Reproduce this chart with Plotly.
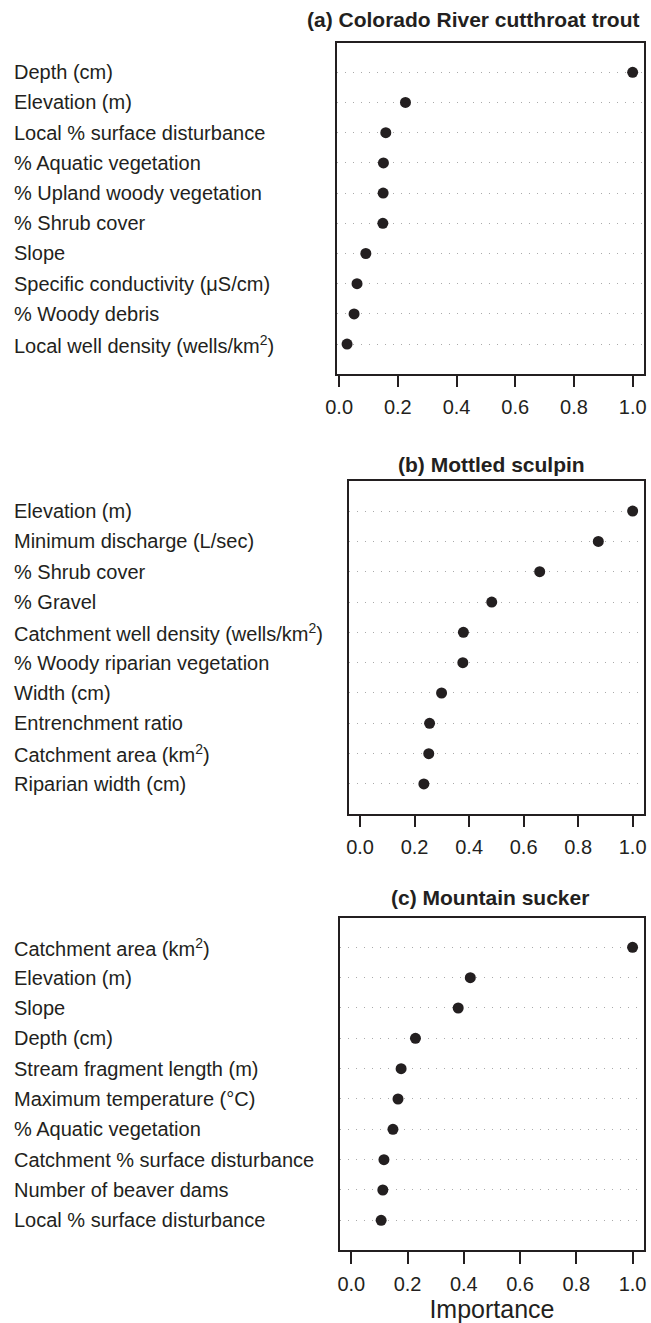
import plotly.graph_objects as go

# ---- data ----
titles = ["(a) Colorado River cutthroat trout", "(b) Mottled sculpin", "(c) Mountain sucker"]

labels_a = ["Depth (cm)", "Elevation (m)", "Local % surface disturbance", "% Aquatic vegetation",
            "% Upland woody vegetation", "% Shrub cover", "Slope",
            "Specific conductivity (\u03bcS/cm)", "% Woody debris",
            "Local well density (wells/km<sup>2</sup>)"]
values_a = [1.0, 0.226, 0.159, 0.151, 0.150, 0.149, 0.091, 0.061, 0.051, 0.027]

labels_b = ["Elevation (m)", "Minimum discharge (L/sec)", "% Shrub cover", "% Gravel",
            "Catchment well density (wells/km<sup>2</sup>)", "% Woody riparian vegetation",
            "Width (cm)", "Entrenchment ratio", "Catchment area (km<sup>2</sup>)",
            "Riparian width (cm)"]
values_b = [1.0, 0.874, 0.659, 0.483, 0.379, 0.377, 0.299, 0.255, 0.252, 0.234]

labels_c = ["Catchment area (km<sup>2</sup>)", "Elevation (m)", "Slope", "Depth (cm)",
            "Stream fragment length (m)", "Maximum temperature (\u00b0C)", "% Aquatic vegetation",
            "Catchment % surface disturbance", "Number of beaver dams",
            "Local % surface disturbance"]
values_c = [1.0, 0.423, 0.380, 0.228, 0.177, 0.166, 0.148, 0.116, 0.112, 0.106]

tick_vals = [0.0, 0.2, 0.4, 0.6, 0.8, 1.0]
tick_text = ["0.0", "0.2", "0.4", "0.6", "0.8", "1.0"]
x_title = "Importance"

# ---- layout ----
W, H = 651, 1323
INK = "#231f20"
FONT = "Liberation Sans, Arial, sans-serif"

panels = [
    dict(labels=labels_a, values=values_a, box=(332, 646, 42.7, 374.0), xr=[-0.0077, 1.039],
         title_x=644, title_anchor="right", title_y=20),
    dict(labels=labels_b, values=values_b, box=(344.3, 646, 481.7, 814.3), xr=[-0.041, 1.042],
         title_x=490, title_anchor="center", title_y=465),
    dict(labels=labels_c, values=values_c, box=(335, 646, 918.3, 1251.0), xr=[-0.041, 1.041],
         title_x=489, title_anchor="center", title_y=898),
]

fig = go.Figure()
annotations = []
for i, p in enumerate(panels):
    suffix = "" if i == 0 else str(i + 1)
    n = len(p["labels"])
    ys = [n - k for k in range(n)]
    fig.add_trace(go.Scatter(
        x=p["values"], y=ys, mode="markers",
        marker=dict(size=11, color=INK),
        xaxis="x" + suffix, yaxis="y" + suffix, showlegend=False, cliponaxis=False))
    x0, x1, y0, y1 = p["box"]
    fig.update_layout(**{
        "xaxis" + suffix: dict(
            domain=[x0 / W, x1 / W], range=p["xr"], anchor="y" + suffix,
            tickvals=tick_vals, ticktext=tick_text, ticks="outside", ticklen=12,
            tickwidth=1.5, tickcolor=INK, showline=True, linecolor=INK, linewidth=1.5,
            mirror=True, showgrid=False, zeroline=False, ticklabelstandoff=3,
            tickfont=dict(family=FONT, size=20, color=INK),
            title=dict(text=x_title if i == 2 else "", font=dict(family=FONT, size=25, color=INK),
                       standoff=11)),
        "yaxis" + suffix: dict(
            domain=[1 - y1 / H, 1 - y0 / H], range=[0.02, n + 0.98], anchor="x" + suffix,
            tickvals=ys, showticklabels=False, ticks="", showline=True, linecolor=INK,
            linewidth=1.5, mirror=True, showgrid=True, gridcolor="#aaaaaa", gridwidth=1.4,
            griddash="1.5px,6.5px", zeroline=False),
    })
    for lab, y in zip(p["labels"], ys):
        annotations.append(dict(
            text=lab, x=0, xref="paper", xanchor="left", y=y, yref="y" + suffix,
            yanchor="middle", showarrow=False, font=dict(family=FONT, size=20, color=INK)))
    annotations.append(dict(
        text="<b>" + titles[i] + "</b>", x=p["title_x"] / W, xref="paper",
        xanchor=p["title_anchor"], y=1 - p["title_y"] / H, yref="paper", yanchor="middle",
        showarrow=False, font=dict(family=FONT, size=21, color=INK)))

fig.update_layout(width=W, height=H, margin=dict(l=0, r=0, t=0, b=0),
                  paper_bgcolor="white", plot_bgcolor="white",
                  annotations=annotations)
fig.write_html("out.html", config={"displayModeBar": False},
               post_script="document.body.style.margin='0px';document.body.style.overflow='hidden';")
